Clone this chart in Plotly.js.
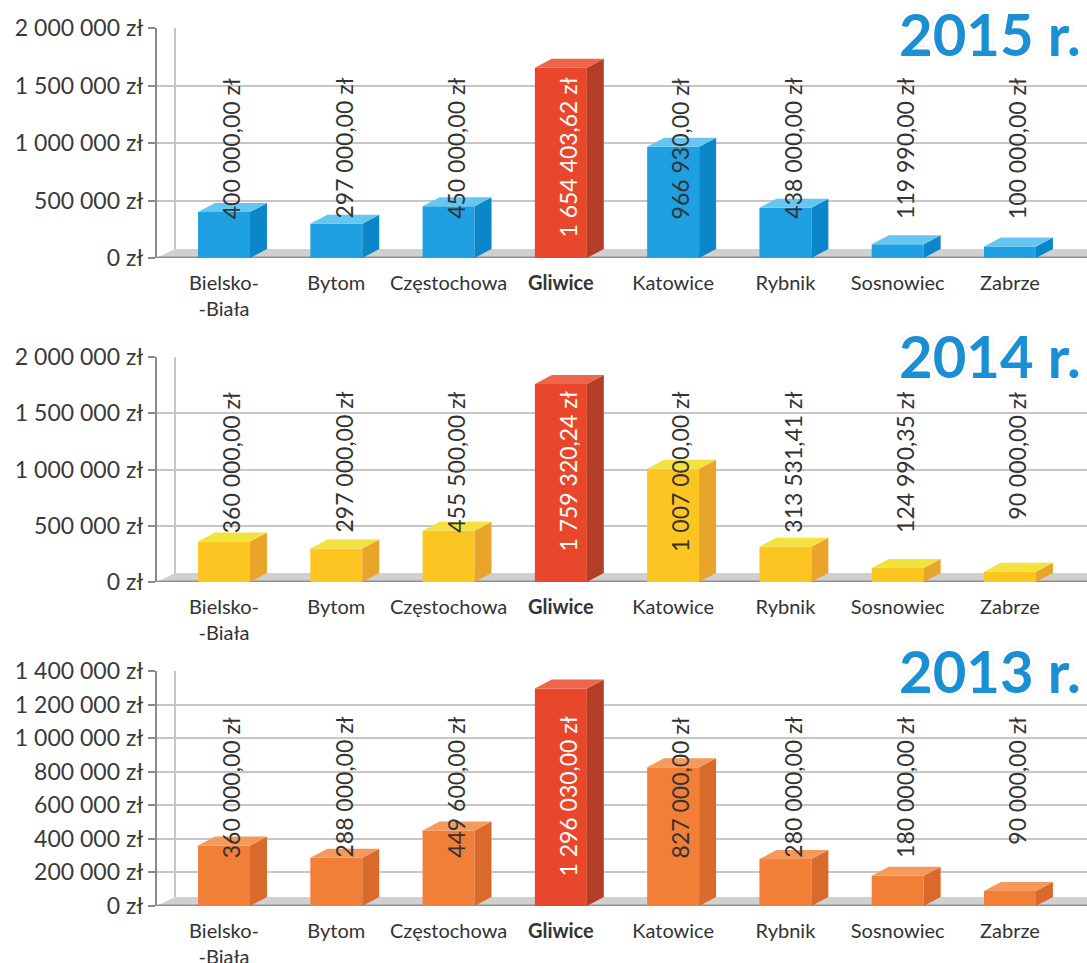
<!DOCTYPE html>
<html>
<head>
<meta charset="utf-8">
<script src="https://cdn.plot.ly/plotly-3.0.1.min.js"></script>
<style>html,body{margin:0;padding:0;background:#fff;}#chart{width:1087px;height:963px;}</style>
</head>
<body>
<div id="chart"></div>
<script>
// ---- data ----
const categories = ['Bielsko-Biała', 'Bytom', 'Częstochowa', 'Gliwice', 'Katowice', 'Rybnik', 'Sosnowiec', 'Zabrze'];
const categoryTickText = ['Bielsko-<br>-Biała', 'Bytom', 'Częstochowa', '<b>Gliwice</b>', 'Katowice', 'Rybnik', 'Sosnowiec', 'Zabrze'];
const years = ['2015 r.', '2014 r.', '2013 r.'];
const values2015 = [400000, 297000, 450000, 1654403.62, 966930, 438000, 119990, 100000];
const values2014 = [360000, 297000, 455500, 1759320.24, 1007000, 313531.41, 124990.35, 90000];
const values2013 = [360000, 288000, 449600, 1296030, 827000, 280000, 180000, 90000];
const yTickVals2015 = [0, 500000, 1000000, 1500000, 2000000];
const yTickVals2014 = [0, 500000, 1000000, 1500000, 2000000];
const yTickVals2013 = [0, 200000, 400000, 600000, 800000, 1000000, 1200000, 1400000];
const highlightCity = 'Gliwice';

// ---- styling / layout config ----
const W = 1087, H = 963;
const FONT = 'Lato, "Open Sans", sans-serif';
const xDomain = [157 / W, 1];
const backWallX = 175 / W;
const xRange = [-0.597, 7.686];
const barW = 0.463;
const dxDepth = 0.151;
const panels = [
  {vals: values2015, ticks: yTickVals2015, yMax: 2000000, zeroPx: 258, topPx: 28, labelTopPx: 76, titleYPx: 34,
   face: '#1fa0e2', side: '#0b86c8', top: '#66c6f2'},
  {vals: values2014, ticks: yTickVals2014, yMax: 2000000, zeroPx: 582, topPx: 357, labelTopPx: 390, titleYPx: 356,
   face: '#fdc522', side: '#e9a42a', top: '#f1e23e'},
  {vals: values2013, ticks: yTickVals2013, yMax: 1400000, zeroPx: 906, topPx: 671, labelTopPx: 715, titleYPx: 670,
   face: '#f27f38', side: '#d96a2b', top: '#f69a5c'}
];
const hl = {face: '#e8472c', side: '#b43d28', top: '#f0654a'};

function fmtZl(v) {
  const parts = v.toFixed(2).split('.');
  const intPart = parts[0].replace(/\B(?=(\d{3})+(?!\d))/g, ' ');
  return intPart + ',' + parts[1] + ' zł';
}
function fmtTick(v) {
  return String(v).replace(/\B(?=(\d{3})+(?!\d))/g, ' ') + ' zł';
}

const traces = [];
const annotations = [];
const shapes = [];
const layout = {
  width: W, height: H,
  margin: {l: 0, r: 0, t: 0, b: 0},
  paper_bgcolor: '#fff', plot_bgcolor: 'rgba(0,0,0,0)',
  showlegend: false,
  hovermode: false,
  font: {family: FONT, color: '#333'}
};

panels.forEach((p, k) => {
  const sfx = k === 0 ? '' : String(k + 1);
  const xa = 'x' + sfx, ya = 'y' + sfx;
  const dom = [(H - p.zeroPx) / H, (H - p.topPx) / H];
  const plotH = p.zeroPx - p.topPx;
  const dyDepth = p.yMax * 9 / plotH;
  const idx = categories.map((_, i) => i);
  const isHl = categories.map(c => c === highlightCity);

  // side & top faces (computed from data values)
  const groups = [
    {sel: i => !isHl[i], col: p},
    {sel: i => isHl[i], col: hl}
  ];
  groups.forEach(g => {
    const sx = [], sy = [], tx = [], ty = [];
    idx.forEach(i => {
      if (!g.sel(i)) return;
      const v = p.vals[i];
      const xr = i + barW / 2, xl = i - barW / 2;
      sx.push(xr, xr + dxDepth, xr + dxDepth, xr, xr, null);
      sy.push(0, dyDepth, v + dyDepth, v, 0, null);
      tx.push(xl, xl + dxDepth, xr + dxDepth, xr, xl, null);
      ty.push(v, v + dyDepth, v + dyDepth, v, v, null);
    });
    traces.push({type: 'scatter', mode: 'lines', x: sx, y: sy, xaxis: xa, yaxis: ya,
      fill: 'toself', fillcolor: g.col.side, line: {width: 0, color: g.col.side}, hoverinfo: 'skip'});
    traces.push({type: 'scatter', mode: 'lines', x: tx, y: ty, xaxis: xa, yaxis: ya,
      fill: 'toself', fillcolor: g.col.top, line: {width: 0, color: g.col.top}, hoverinfo: 'skip'});
  });
  // front faces
  traces.push({type: 'bar', x: idx, y: p.vals, width: barW, xaxis: xa, yaxis: ya,
    marker: {color: idx.map(i => isHl[i] ? hl.face : p.face), line: {width: 0}},
    hoverinfo: 'skip'});

  layout['xaxis' + sfx] = {
    domain: xDomain, range: xRange, anchor: ya,
    tickvals: idx, ticktext: categoryTickText, ticks: '',
    showgrid: false, zeroline: false, showline: false,
    tickfont: {family: FONT, size: 20, color: '#333'},
    ticklabelstandoff: 11, fixedrange: true
  };
  layout['yaxis' + sfx] = {
    domain: dom, range: [0, p.yMax], anchor: xa,
    tickvals: p.ticks, ticktext: p.ticks.map(fmtTick),
    ticks: 'outside', ticklen: 7, tickwidth: 2, tickcolor: '#8a8a8a',
    showline: true, linecolor: '#8a8a8a', linewidth: 2,
    showgrid: true, gridcolor: '#c6c6c6', gridwidth: 2, zeroline: false,
    tickfont: {family: FONT, size: 23, color: '#3a3a3a'}, fixedrange: true
  };

  // floor (slanted 3D base)
  shapes.push({type: 'path', layer: 'below', xref: 'paper', yref: ya,
    path: 'M ' + xDomain[0] + ' 0 L 1 0 L 1 ' + dyDepth + ' L ' + backWallX + ' ' + dyDepth + ' Z',
    fillcolor: '#d0d0d0', line: {width: 0}});
  shapes.push({type: 'line', layer: 'below', xref: 'paper', yref: ya,
    x0: xDomain[0], x1: 1, y0: 0, y1: 0, line: {color: '#8f8f8f', width: 3}});
  // back wall edge
  shapes.push({type: 'line', layer: 'below', xref: 'paper', yref: ya,
    x0: backWallX, x1: backWallX, y0: dyDepth, y1: p.yMax, line: {color: '#c6c6c6', width: 2}});

  // value labels
  idx.forEach(i => {
    annotations.push({
      xref: xa, yref: ya + ' domain',
      x: i + 0.06, y: (p.zeroPx - p.labelTopPx) / plotH,
      xanchor: 'center', yanchor: 'top',
      text: fmtZl(p.vals[i]), textangle: -90, showarrow: false,
      font: {family: FONT, size: 23, color: isHl[i] ? '#ffffff' : '#333333'}
    });
  });
  // year title
  annotations.push({
    xref: 'paper', yref: 'paper', x: 1083 / W, y: 1 - p.titleYPx / H,
    xanchor: 'right', yanchor: 'middle', text: '<b>' + years[k] + '</b>', showarrow: false,
    font: {family: FONT, size: 58, color: '#1a8fd3', weight: 700,
      shadow: '3px 0 0 #fff, -3px 0 0 #fff, 0 3px 0 #fff, 0 -3px 0 #fff, 2px 2px 0 #fff, -2px -2px 0 #fff, 2px -2px 0 #fff, -2px 2px 0 #fff, 0 0 5px #999'}
  });
});

layout.annotations = annotations;
layout.shapes = shapes;
Plotly.newPlot('chart', traces, layout, {staticPlot: true, displayModeBar: false});
</script>
</body>
</html>
